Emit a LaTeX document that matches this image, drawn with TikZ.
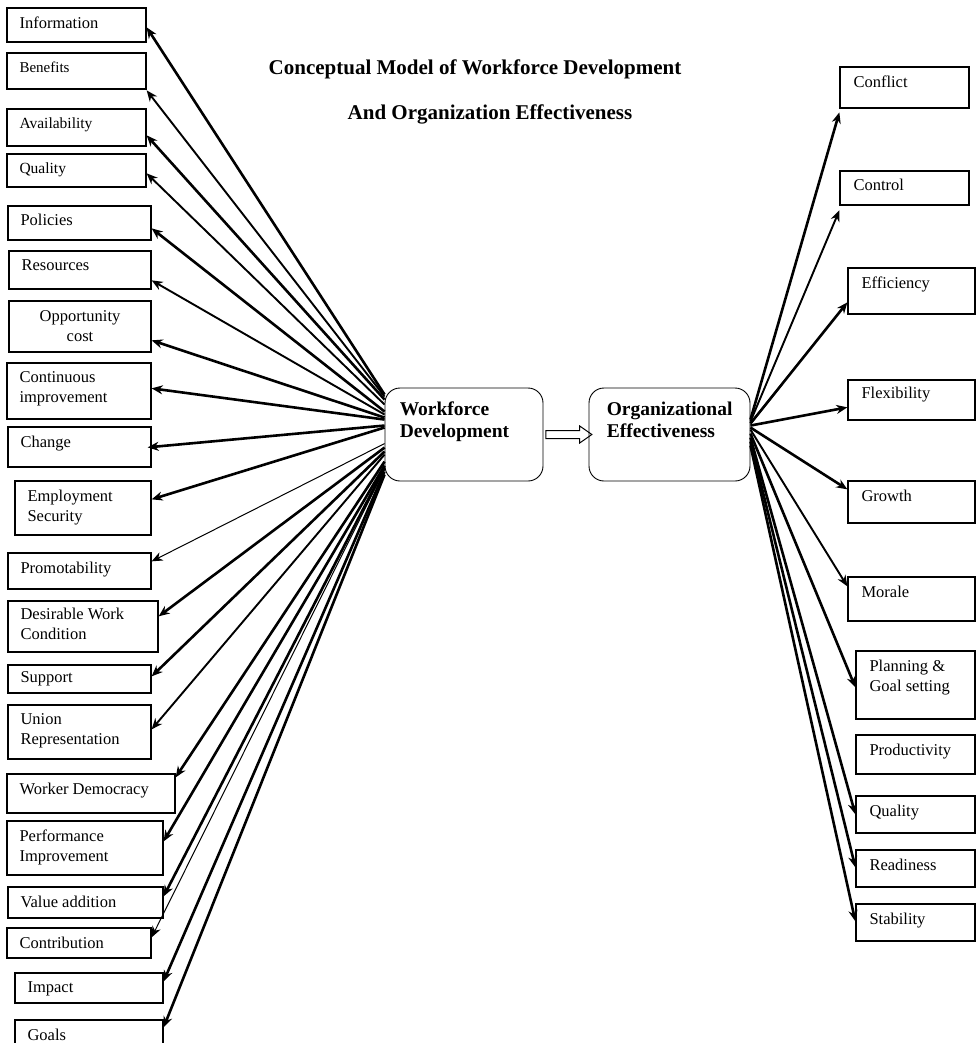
\documentclass[tikz,border=0pt]{standalone}
\usepackage{fontspec}
\setmainfont{Liberation Serif}
\usetikzlibrary{arrows.meta,shapes.arrows}

\tikzset{
  box/.style={draw, line width=1.3pt, inner sep=0pt},
  boxtext/.style={inner sep=0pt, align=left, font=\fontsize{16.5}{20}\selectfont},
  lbl/.style={boxtext, anchor=north west, xshift=13pt, yshift=-9pt},
  rlbl/.style={boxtext, anchor=north west, xshift=14pt, yshift=-9pt},
  hub/.style={draw, rounded corners=15pt, line width=0.9pt, inner sep=0pt, minimum width=158pt, minimum height=93pt},
  hubtext/.style={inner sep=0pt, align=left, anchor=north west, font=\bfseries\fontsize{19.5}{22.5}\selectfont},
  title/.style={inner sep=0pt, font=\bfseries\fontsize{21}{24}\selectfont},
  link/.style={-{Stealth[length=11pt,width=9pt]}, line width=2.6pt},
  midlink/.style={link, line width=1.9pt},
  thinlink/.style={link, line width=1pt},
  bigarrow/.style={draw, single arrow, line width=1pt, inner sep=0pt, text height=3.5pt, text depth=3.5pt,
    minimum height=46pt, single arrow head extend=4.5pt, single arrow tip angle=70}
}

\begin{document}
\begin{tikzpicture}[x=1pt, y=-1pt]
    \useasboundingbox (0,0) rectangle (977,1043);

    % Title
    \node[title, anchor=base] (title1) at (475,75) {Conceptual Model of Workforce Development};
    \node[title, anchor=base] (title2) at (490,120) {And Organization Effectiveness};

    % Central boxes
    \node[hub, label={[hubtext, xshift=15pt, yshift=-14pt]north west:{Workforce\\Development}}] (wd) at (464,434.5) {};
    \node[hub, minimum width=161pt, label={[hubtext, xshift=18pt, yshift=-14pt]north west:{Organizational\\Effectiveness}}] (oe) at (669.5,434.5) {};
    \path (wd.east) -- node[bigarrow] (wdoe) {} (oe.west);

    % Left column
    \node[box, minimum width=139pt, minimum height=34pt, label={[lbl]north west:Information}] (info) at (76.5,25) {};
    \node[box, minimum width=139pt, minimum height=36pt, label={[lbl, font=\fontsize{15}{18}\selectfont]north west:Benefits}] (bene) at (76.5,71) {};
    \node[box, minimum width=139pt, minimum height=37pt, label={[lbl, font=\fontsize{15.5}{18}\selectfont]north west:Availability}] (avail) at (76.5,127.5) {};
    \node[box, minimum width=139pt, minimum height=33pt, label={[lbl, font=\fontsize{15.5}{18}\selectfont]north west:Quality}] (qual) at (76.5,170.5) {};
    \node[box, minimum width=143pt, minimum height=34pt, label={[lbl]north west:Policies}] (poli) at (79.5,223) {};
    \node[box, minimum width=142pt, minimum height=38pt, label={[lbl]north west:Resources}] (reso) at (80,270) {};
    \node[box, minimum width=142pt, minimum height=51pt, label={[boxtext, align=center, anchor=north, yshift=-10pt]north:{Opportunity\\cost}}] (oppo) at (80,326.5) {};
    \node[box, minimum width=144pt, minimum height=56pt, label={[lbl]north west:{Continuous\\improvement}}] (cimp) at (79,391) {};
    \node[box, minimum width=143pt, minimum height=40pt, label={[lbl]north west:Change}] (chan) at (79.5,447) {};
    \node[box, minimum width=136pt, minimum height=54pt, label={[lbl]north west:{Employment\\Security}}] (empl) at (83,508) {};
    \node[box, minimum width=143pt, minimum height=36pt, label={[lbl]north west:Promotability}] (prom) at (79.5,571) {};
    \node[box, minimum width=150pt, minimum height=51pt, label={[lbl, yshift=2pt]north west:{Desirable Work\\Condition}}] (desi) at (83,626.5) {};
    \node[box, minimum width=143pt, minimum height=28pt, label={[lbl, yshift=2pt]north west:Support}] (supp) at (79.5,679) {};
    \node[box, minimum width=143pt, minimum height=54pt, label={[lbl]north west:{Union\\Representation}}] (unio) at (79.5,732) {};
    \node[box, minimum width=168pt, minimum height=39pt, label={[lbl]north west:Worker Democracy}] (work) at (91,793.5) {};
    \node[box, minimum width=156pt, minimum height=54pt, label={[lbl]north west:{Performance\\Improvement}}] (perf) at (85,848) {};
    \node[box, minimum width=155pt, minimum height=31pt, label={[lbl]north west:Value addition}] (valu) at (85.5,902.5) {};
    \node[box, minimum width=144pt, minimum height=30pt, label={[lbl]north west:Contribution}] (ctrb) at (79,943) {};
    \node[box, minimum width=148pt, minimum height=30pt, label={[lbl]north west:Impact}] (impa) at (89,988) {};
    \node[box, minimum width=148pt, minimum height=45pt, label={[lbl]north west:Goals}] (goal) at (89,1042.5) {};

    % Right column
    \node[box, minimum width=129pt, minimum height=41pt, label={[rlbl]north west:Conflict}] (conf) at (904.5,87.5) {};
    \node[box, minimum width=129pt, minimum height=34pt, label={[rlbl]north west:Control}] (ctrl) at (904.5,188) {};
    \node[box, minimum width=127pt, minimum height=46pt, label={[rlbl]north west:Efficiency}] (effi) at (911.5,291) {};
    \node[box, minimum width=127pt, minimum height=40pt, label={[rlbl, yshift=2pt]north west:Flexibility}] (flex) at (911.5,400) {};
    \node[box, minimum width=127pt, minimum height=42pt, label={[rlbl]north west:Growth}] (grow) at (911.5,502) {};
    \node[box, minimum width=127pt, minimum height=44pt, label={[rlbl]north west:Morale}] (mora) at (911.5,599) {};
    \node[box, minimum width=119pt, minimum height=68pt, label={[rlbl]north west:{Planning \&\\Goal setting}}] (plan) at (915.5,685) {};
    \node[box, minimum width=119pt, minimum height=39pt, label={[rlbl]north west:Productivity}] (prod) at (915.5,754.5) {};
    \node[box, minimum width=119pt, minimum height=37pt, label={[rlbl]north west:Quality}] (oqual) at (915.5,814.5) {};
    \node[box, minimum width=119pt, minimum height=37pt, label={[rlbl]north west:Readiness}] (read) at (915.5,868.5) {};
    \node[box, minimum width=119pt, minimum height=37pt, label={[rlbl]north west:Stability}] (stab) at (915.5,922.5) {};

    % Workforce development -> left factors
    \draw[link] ([yshift=-7pt]wd.north west) -- ([yshift=-20pt]info.north east);
    \draw[midlink] ([yshift=-9pt]wd.north west) -- ([yshift=-38pt]bene.north east);
    \draw[link] ([yshift=-12pt]wd.north west) -- ([yshift=-27pt]avail.north east);
    \draw[midlink] ([yshift=-17pt]wd.north west) -- ([yshift=-20pt]qual.north east);
    \draw[link] ([yshift=-24pt]wd.north west) -- ([yshift=-23pt]poli.north east);
    \draw[midlink] ([yshift=-27pt]wd.north west) -- ([yshift=-30pt]reso.north east);
    \draw[link] ([yshift=-30pt]wd.north west) -- ([yshift=-40pt]oppo.north east);
    \draw[link] ([yshift=-32pt]wd.north west) -- ([yshift=-26pt]cimp.north east);
    \draw[link] ([yshift=-38pt]wd.north west) -- ([xshift=-4pt,yshift=-21pt]chan.north east);
    \draw[link] ([yshift=-40pt]wd.north west) -- ([yshift=-19pt]empl.north east);
    \draw[thinlink] ([yshift=-56pt]wd.north west) -- ([yshift=-9pt]prom.north east);
    \draw[link] ([yshift=-60pt]wd.north west) -- ([yshift=-16pt]desi.north east);
    \draw[link] ([yshift=-64pt]wd.north west) -- ([yshift=-12pt]supp.north east);
    \draw[midlink] ([yshift=-67pt]wd.north west) -- ([yshift=-25pt]unio.north east);
    \draw[link] ([yshift=-74pt]wd.north west) -- ([yshift=-4pt]work.north east);
    \draw[link] ([yshift=-78pt]wd.north west) -- ([yshift=-21pt]perf.north east);
    \draw[link] ([yshift=-80pt]wd.north west) -- ([yshift=-10pt]valu.north east);
    \draw[thinlink] ([yshift=-82pt]wd.north west) -- ([yshift=-10pt]ctrb.north east);
    \draw[link] ([yshift=-84pt]wd.north west) -- ([yshift=-9pt]impa.north east);
    \draw[link] ([yshift=-87pt]wd.north west) -- ([yshift=-8pt]goal.north east);

    % Organizational effectiveness -> right factors
    \draw[link] ([yshift=-32pt]oe.north east) -- ([yshift=-46pt]conf.north west);
    \draw[midlink] ([yshift=-34pt]oe.north east) -- ([yshift=-40pt]ctrl.north west);
    \draw[link] ([yshift=-36pt]oe.north east) -- ([yshift=-35pt]effi.north west);
    \draw[link] ([yshift=-38pt]oe.north east) -- ([yshift=-28pt]flex.north west);
    \draw[link] ([yshift=-40pt]oe.north east) -- ([yshift=-9pt]grow.north west);
    \draw[midlink] ([yshift=-42pt]oe.north east) -- ([yshift=-10pt]mora.north west);
    \draw[link] ([yshift=-46pt]oe.north east) -- ([yshift=-37pt]plan.north west);
    \draw[link] ([yshift=-50pt]oe.north east) -- ([yshift=-19pt]oqual.north west);
    \draw[link] ([yshift=-54pt]oe.north east) -- ([yshift=-18pt]read.north west);
    \draw[link] ([yshift=-58pt]oe.north east) -- ([yshift=-18pt]stab.north west);
\end{tikzpicture}
\end{document}
